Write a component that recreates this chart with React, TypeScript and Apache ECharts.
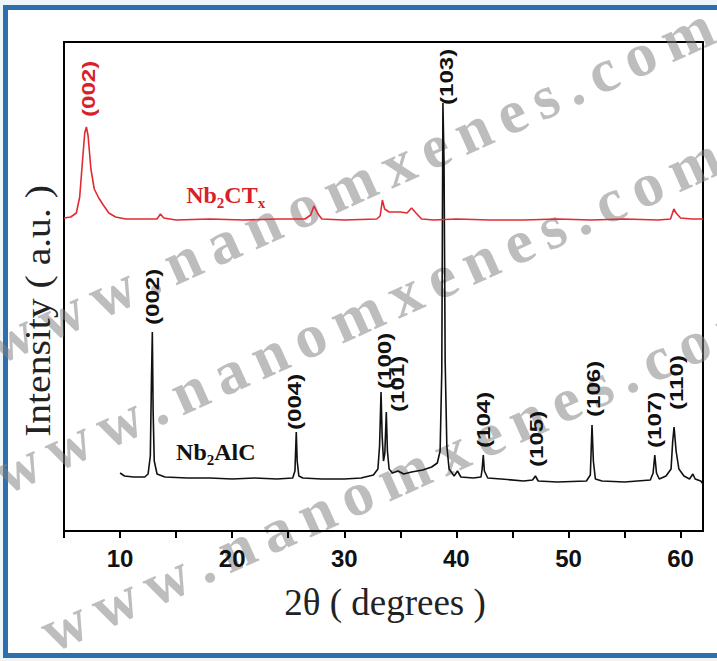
import React, { useEffect, useRef } from 'react';
import * as echarts from 'echarts';

// ---- Data ----
const nb2alcTheta = [10.0, 10.4, 11.2, 12.2, 12.5, 12.7, 12.8, 12.88, 12.95, 13.05, 13.3, 14, 16, 18, 20, 22, 24, 25.4, 25.6, 25.72, 25.8, 25.95, 26.3, 28, 30, 31.5, 32.6, 33.0, 33.15, 33.28, 33.38, 33.5, 33.62, 33.75, 33.85, 34.0, 34.3, 34.8, 35.3, 36, 37, 37.8, 38.3, 38.55, 38.7, 38.8, 38.9, 39.0, 39.15, 39.35, 39.8, 40.1, 40.4, 41.5, 42.2, 42.3, 42.4, 42.5, 42.8, 44, 46, 46.8, 47.05, 47.3, 49, 51.6, 51.95, 52.1, 52.22, 52.4, 53, 55, 57.3, 57.55, 57.7, 57.85, 58.1, 58.7, 59.15, 59.3, 59.42, 59.6, 59.85, 60.3, 60.8, 61.1, 61.3, 61.8, 62];
const nb2alcIntensity = [58, 55, 54, 54, 57, 75, 150, 199, 120, 70, 57, 54, 53, 53, 52, 53, 52, 53, 60, 99, 70, 55, 53, 52, 52, 53, 56, 62, 85, 139, 95, 70, 78, 119, 80, 62, 58, 60, 57, 59, 61, 64, 68, 80, 160, 428, 370, 170, 85, 62, 55, 60, 54, 53, 54, 62, 76, 60, 53, 52, 50, 51, 55, 50, 49, 50, 56, 106, 70, 52, 50, 49, 51, 58, 76, 58, 52, 55, 62, 90, 104, 80, 62, 55, 52, 57, 52, 50, 47];

const nb2ctxTheta = [5.0, 5.6, 6.1, 6.4, 6.65, 6.85, 7.0, 7.15, 7.4, 7.7, 8.1, 8.5, 9.0, 9.6, 10.5, 12, 13.3, 13.6, 13.9, 15, 18, 21, 24, 26.5, 27.0, 27.3, 27.6, 28.0, 30, 32.9, 33.2, 33.4, 33.6, 34.0, 35.0, 35.6, 36.0, 36.4, 36.9, 38, 40, 43, 46, 49, 52, 55, 58, 59.1, 59.4, 59.6, 60.0, 61, 62];
const nb2ctxIntensity = [313, 314, 318, 334, 370, 398, 404, 395, 362, 342, 333, 326, 318, 314, 312, 312, 312, 317, 313, 311, 312, 311, 312, 312, 316, 325, 318, 312, 311, 312, 315, 331, 322, 319, 319, 318, 323, 318, 312, 311, 312, 311, 311, 312, 311, 312, 311, 312, 322, 318, 313, 312, 312];

const alcPeakLabels = ['(002)', '(004)', '(100)', '(101)', '(103)', '(104)', '(105)', '(106)', '(107)', '(110)'];
const alcPeakLabelTheta = [12.85, 25.6, 33.55, 34.7, 39.1, 42.45, 47.1, 52.2, 57.7, 59.6];
const alcPeakLabelBase = [206, 101, 142, 119, 426, 83, 64, 114, 83, 121];

const ctxPeakLabels = ['(002)'];
const ctxPeakLabelTheta = [7.2];
const ctxPeakLabelBase = [414];

const sampleNames = ['{m|Nb}{s|2}{m|AlC}', '{m|Nb}{s|2}{m|CT}{s|x}'];
const sampleTheta = [15.0, 15.9];
const sampleIntensity = [79, 336];

const xTickValues = [5, 10, 15, 20, 25, 30, 35, 40, 45, 50, 55, 60];
const xLabelValues = [10, 20, 30, 40, 50, 60];

const watermarkText = 'www.nanomxenes.com';

// ---- styling ----
const BLACK = '#111111';
const RED = '#e12a31';
const RED_TEXT = '#d81f2a';
const SANS = '"Liberation Sans", Arial, Helvetica, sans-serif';
const SERIF = '"Liberation Serif", "Times New Roman", Times, serif';

const zip = (a: number[], b: number[]) => a.map((v, i) => [v, b[i]]);

function peakLabelSeries(labels: string[], thetas: number[], bases: number[], color: string) {
  return {
    type: 'custom',
    silent: true,
    clip: false,
    z: 6,
    data: thetas.map((t, i) => [t, bases[i], i]),
    encode: { x: 0, y: 1 },
    renderItem: (params: any, api: any) => {
      const p = api.coord([api.value(0), api.value(1)]);
      const i = api.value(2);
      return {
        type: 'text',
        x: p[0],
        y: p[1],
        rotation: Math.PI / 2,
        scaleX: 1.27,
        style: {
          text: labels[i],
          fill: color,
          font: `bold 19px ${SANS}`,
          align: 'left',
          verticalAlign: 'middle',
          textAlign: 'left',
          textVerticalAlign: 'middle',
        },
      };
    },
  };
}

function sampleNameSeries() {
  const colors = [BLACK, RED_TEXT];
  return {
    type: 'custom',
    silent: true,
    clip: false,
    z: 6,
    data: sampleTheta.map((t, i) => [t, sampleIntensity[i], i]),
    encode: { x: 0, y: 1 },
    renderItem: (params: any, api: any) => {
      const p = api.coord([api.value(0), api.value(1)]);
      const i = api.value(2);
      const c = colors[i];
      return {
        type: 'text',
        x: p[0],
        y: p[1],
        style: {
          text: sampleNames[i],
          fill: c,
          align: 'left',
          verticalAlign: 'middle',
          textAlign: 'left',
          textVerticalAlign: 'middle',
          rich: {
            m: { fontSize: 24, fontWeight: 'bold', fontFamily: SERIF, lineHeight: 30, fill: c },
            s: { fontSize: 15, fontWeight: 'bold', fontFamily: SERIF, lineHeight: 15, verticalAlign: 'bottom', fill: c },
          },
        },
      };
    },
  };
}

// Times-bold advance widths (em) for the watermark glyphs
const WM_W: Record<string, number> = { w: 0.722, '.': 0.25, n: 0.556, a: 0.5, o: 0.5, m: 0.833, x: 0.5, e: 0.444, s: 0.389, c: 0.444 };

function watermarkRow(x: number, y: number) {
  const fs = 62;
  const ls = 11;
  const children: any[] = [];
  let pos = 0;
  for (let i = 0; i < watermarkText.length; i++) {
    const ch = watermarkText[i];
    if (i > 0) pos += ((WM_W[watermarkText[i - 1]] + WM_W[ch]) / 2) * fs + ls;
    children.push({
      type: 'text',
      x: pos,
      y: 0,
      style: {
        text: ch,
        font: `bold ${fs}px ${SERIF}`,
        fill: 'rgba(128,128,128,0.52)',
        align: 'center',
        verticalAlign: 'middle',
        textAlign: 'center',
        textVerticalAlign: 'middle',
      },
    });
  }
  return { type: 'group', x, y, rotation: 0.422, z: 50, silent: true, children };
}

export default function App() {
  const ref = useRef<HTMLDivElement>(null);

  useEffect(() => {
    if (!ref.current) return;
    const chart = echarts.init(ref.current, undefined, { renderer: 'svg' });
    const option: any = {
      animation: false,
      backgroundColor: 'transparent',
      grid: { left: 64, right: 14, top: 42, bottom: 130, show: true, borderColor: '#000', borderWidth: 2, backgroundColor: 'transparent' },
      xAxis: {
        type: 'value',
        min: 5,
        max: 62,
        axisLine: { show: true, lineStyle: { color: '#000', width: 2 } },
        axisTick: { show: true, inside: false, length: 7, customValues: xTickValues, lineStyle: { color: '#000', width: 2 } },
        axisLabel: {
          show: true,
          customValues: xLabelValues,
          fontSize: 24,
          fontWeight: 'bold',
          fontFamily: SANS,
          color: BLACK,
          margin: 15,
        },
        splitLine: { show: false },
      },
      yAxis: {
        type: 'value',
        min: 0,
        max: 489,
        axisLine: { show: false },
        axisTick: { show: false },
        axisLabel: { show: false },
        splitLine: { show: false },
      },
      series: [
        {
          name: 'Nb2AlC',
          type: 'line',
          data: zip(nb2alcTheta, nb2alcIntensity),
          showSymbol: false,
          symbol: 'none',
          lineStyle: { color: BLACK, width: 1.6 },
          z: 3,
        },
        {
          name: 'Nb2CTx',
          type: 'line',
          data: zip(nb2ctxTheta, nb2ctxIntensity),
          showSymbol: false,
          symbol: 'none',
          lineStyle: { color: RED, width: 1.6 },
          z: 4,
        },
        peakLabelSeries(alcPeakLabels, alcPeakLabelTheta, alcPeakLabelBase, BLACK),
        peakLabelSeries(ctxPeakLabels, ctxPeakLabelTheta, ctxPeakLabelBase, RED_TEXT),
        sampleNameSeries(),
      ],
      graphic: [
        {
          type: 'text',
          x: 385,
          y: 602,
          z: 10,
          style: {
            text: '2θ ( degrees )',
            font: `37px ${SERIF}`,
            fill: '#222',
            align: 'center',
            verticalAlign: 'middle',
            textAlign: 'center',
            textVerticalAlign: 'middle',
          },
        },
        {
          type: 'text',
          x: 38,
          y: 311,
          rotation: Math.PI / 2,
          scaleX: 1.1,
          z: 10,
          style: {
            text: 'Intensity ( a.u. )',
            font: `36px ${SERIF}`,
            fill: '#222',
            align: 'center',
            verticalAlign: 'middle',
            textAlign: 'center',
            textVerticalAlign: 'middle',
          },
        },
        watermarkRow(10, 337),
        watermarkRow(17, 467),
        watermarkRow(64, 625),
      ],
    };
    chart.setOption(option);
    return () => chart.dispose();
  }, []);

  return (
    <div style={{ position: 'fixed', left: 0, top: 0, width: 717, height: 661, background: '#eef6f9', overflow: 'hidden' }}>
      <div
        style={{
          position: 'absolute',
          left: 3,
          top: 5,
          width: 720,
          height: 653,
          boxSizing: 'border-box',
          borderLeft: '5px solid #2f6fad',
          borderTop: '5px solid #2f6fad',
          borderBottom: '5px solid #2f6fad',
          background: '#ffffff',
        }}
      />
      <div ref={ref} style={{ position: 'absolute', left: 0, top: 0, width: 717, height: 661 }} />
    </div>
  );
}
